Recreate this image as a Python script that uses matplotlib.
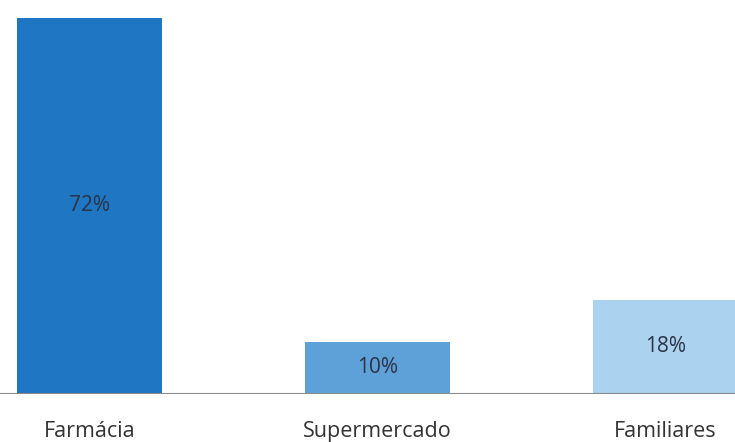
import matplotlib.pyplot as plt

# Data
categories = ['Farmácia', 'Supermercado', 'Familiares']
values = [72, 10, 18]
labels = ['72%', '10%', '18%']
colors = ['#1f76c2', '#5ea0d8', '#abd2ee']

plt.rcParams['font.family'] = ['Open Sans', 'DejaVu Sans']

fig = plt.figure(figsize=(7.35, 4.42), dpi=100)
ax = fig.add_axes([0, 48 / 442, 1, 394 / 442])

x = list(range(len(categories)))
bars = ax.bar(x, values, width=0.503, color=colors, zorder=2)

for b, lab in zip(bars, labels):
    ax.text(b.get_x() + b.get_width() / 2, b.get_height() / 2, lab,
            ha='center', va='center', fontsize=15, color='#2a3347')

ax.set_xlim(-0.311, 2.241)
ax.set_ylim(0, 75.4)
ax.axhline(0, color='#8a8a8a', lw=1.5, zorder=3)

for s in ax.spines.values():
    s.set_visible(False)
ax.set_yticks([])
ax.set_xticks(x)
ax.set_xticklabels(categories, fontsize=15.5, color='#333333')
ax.tick_params(axis='x', length=0, pad=19.5)

fig.savefig('out.png', dpi=100)
